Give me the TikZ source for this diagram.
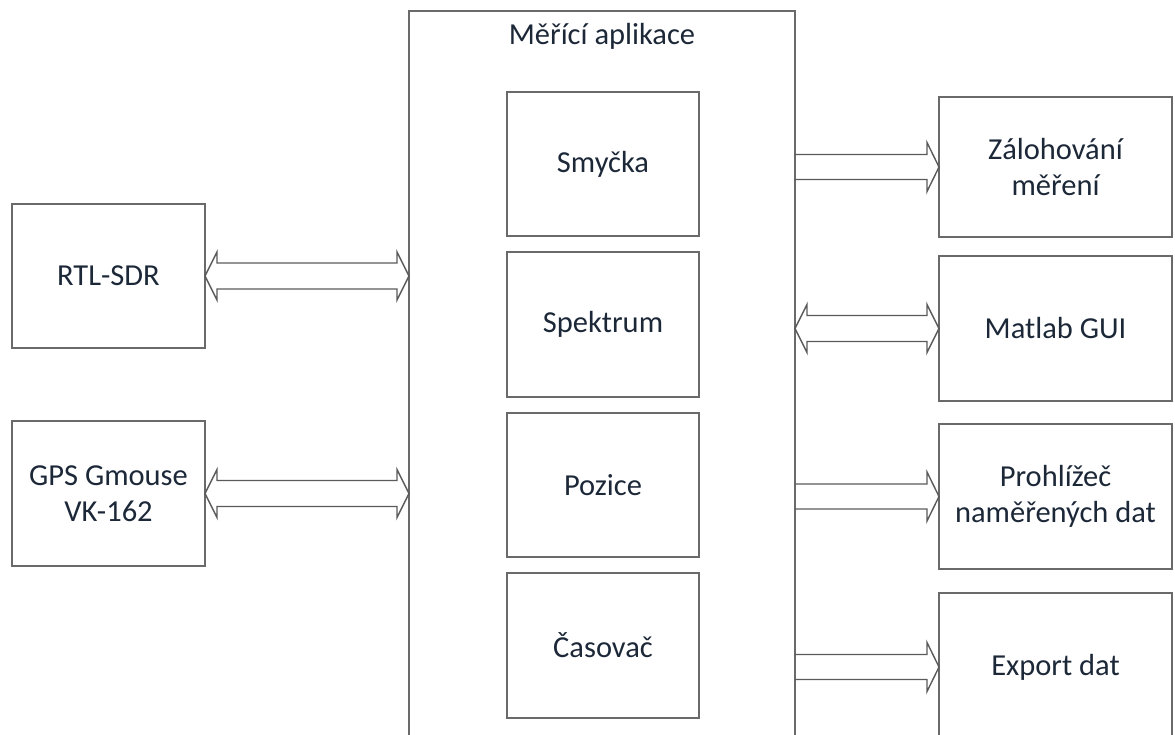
\documentclass[tikz,border=0pt]{standalone}
\usepackage{fontspec}
\setmainfont{Carlito}
\usetikzlibrary{calc}
\definecolor{txt}{HTML}{1C2838}
\definecolor{edge}{HTML}{6A6A6A}
\newcommand\sarrow[3]{%
  \draw[arr] let \p1=(#1), \p2=(#2), \p3=(#3) in
    (\x1,\y3+12.5pt) -- (\x2-12pt,\y3+12.5pt) -- (\x2-12pt,\y3+24.5pt) -- (\x2,\y3)
    -- (\x2-12pt,\y3-24.5pt) -- (\x2-12pt,\y3-12.5pt) -- (\x1,\y3-12.5pt);}
\newcommand\darrow[3]{%
  \draw[arr] let \p1=(#1), \p2=(#2), \p3=(#3) in
    (\x1,\y3) -- (\x1+12pt,\y3+24pt) -- (\x1+12pt,\y3+13pt) -- (\x2-12pt,\y3+13pt)
    -- (\x2-12pt,\y3+24pt) -- (\x2,\y3) -- (\x2-12pt,\y3-24pt) -- (\x2-12pt,\y3-13pt)
    -- (\x1+12pt,\y3-13pt) -- (\x1+12pt,\y3-24pt) -- cycle;}
\begin{document}
\begin{tikzpicture}[x=1pt,y=-1pt,
  lbl/.style={text=txt, font=\fontsize{30.5pt}{36pt}\selectfont},
  box/.style={lbl, draw=edge, line width=1.4pt, inner sep=0pt, outer sep=0pt, align=center},
  arr/.style={draw=edge!85!black, line width=1.4pt, line join=miter}]
\useasboundingbox (0,0) rectangle (1175,735);
\clip (0,0) rectangle (1175,735);
% main application box (bottom runs off the picture)
\node[box, minimum width=386pt, minimum height=740pt, anchor=north west] (app) at (409,11) {};
\node[lbl, anchor=base, inner sep=0pt] (title) at (602,45) {Měřící aplikace};
% inner boxes
\node[box, minimum width=192pt, minimum height=144pt] (smycka)   at (603,164)   {Smyčka};
\node[box, minimum width=192pt, minimum height=145pt] (spektrum) at (603,324.5) {Spektrum};
\node[box, minimum width=192pt, minimum height=144pt] (pozice)   at (603,485)   {Pozice};
\node[box, minimum width=192pt, minimum height=145pt] (casovac)  at (603,645.5) {Časovač};
% left boxes
\node[box, minimum width=193pt, minimum height=144pt] (rtl) at (108.5,276)   {RTL-SDR};
\node[box, minimum width=193pt, minimum height=145pt] (gps) at (108.5,493.5) {GPS Gmouse\\VK-162};
% right boxes
\node[box, minimum width=233pt, minimum height=140pt] (zal)    at (1055.5,167)   {Zálohování\\měření};
\node[box, minimum width=233pt, minimum height=145pt] (matlab) at (1055.5,328.5) {Matlab GUI};
\node[box, minimum width=233pt, minimum height=145pt] (prohl)  at (1055.5,496.5) {Prohlížeč\\naměřených dat};
\node[box, minimum width=233pt, minimum height=148pt] (export) at (1055.5,667)   {Export dat};
% connectors
\darrow{rtl.east}{app.west}{rtl.east}
\darrow{gps.east}{app.west}{gps.east}
\sarrow{app.east}{zal.west}{zal.west}
\darrow{app.east}{matlab.west}{matlab.west}
\sarrow{app.east}{prohl.west}{prohl.west}
\sarrow{app.east}{export.west}{export.west}
\end{tikzpicture}
\end{document}
